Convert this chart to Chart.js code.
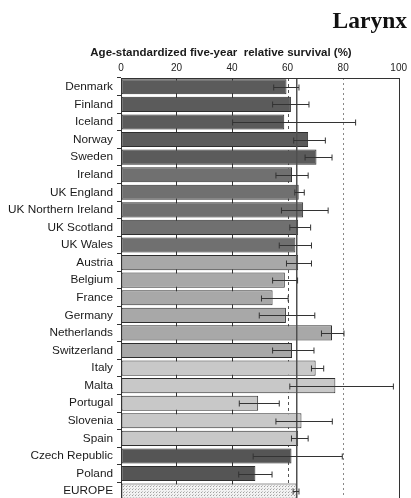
<!DOCTYPE html>
<html><head><meta charset="utf-8">
<script src="https://cdn.jsdelivr.net/npm/chart.js@4/dist/chart.umd.min.js"></script>
<style>html,body{margin:0;padding:0;background:#fff;overflow:hidden}</style>
</head><body>
<canvas id="c" width="411" height="511"></canvas>
<script>
const countries = ["Denmark","Finland","Iceland","Norway","Sweden","Ireland","UK England","UK Northern Ireland","UK Scotland","UK Wales","Austria","Belgium","France","Germany","Netherlands","Switzerland","Italy","Malta","Portugal","Slovenia","Spain","Czech Republic","Poland","EUROPE"];
const survival = [59.6,61.2,58.8,67.4,70.4,61.6,64.0,65.6,63.8,62.8,63.8,59.0,54.6,59.4,76.0,61.6,70.1,77.2,49.4,65.0,63.8,61.4,48.4,63.3];
const ciLow   = [55.0,54.6,40.2,62.2,66.3,55.8,62.6,57.8,60.8,57.0,59.6,54.6,50.6,49.8,72.2,54.6,68.6,60.8,42.6,55.8,61.4,47.6,42.4,62.0];
const ciHigh  = [64.1,67.7,84.5,73.6,76.0,67.4,66.0,74.6,68.3,68.6,68.6,63.6,60.2,69.8,80.3,69.5,73.0,98.1,57.0,76.1,67.4,79.7,54.4,64.1];
const regionGroup = [0,0,0,0,0,1,1,1,1,1,2,2,2,2,2,2,3,3,3,3,3,4,4,5];
const xTickStep = 20;
const europeMean = 63.3;
const refDashed = 60;
const refDotted = 80;
const chartTitle = "Larynx";
const axisTitle = "Age-standardized five-year  relative survival (%)";

// styles
const groupColors = ["#5b5b5b","#707070","#a8a8a8","#c8c8c8","#555555", null];
function makePattern(){
  const p = document.createElement('canvas');
  p.width = 3; p.height = 3;
  const g = p.getContext('2d');
  g.fillStyle = '#f2f2f2'; g.fillRect(0,0,3,3);
  g.fillStyle = '#a0a0a0'; g.fillRect(0,0,1,1);
  g.fillStyle = '#c8c8c8'; g.fillRect(1,2,1,1);
  return document.getElementById('c').getContext('2d').createPattern(p,'repeat');
}
const pattern = makePattern();
const barColors = regionGroup.map(g => groupColors[g] || pattern);

const overlay = {
  id: 'overlay',
  beforeDatasetsDraw(chart){
    const {ctx, chartArea:a, scales:{x}} = chart;
    ctx.save();
    ctx.strokeStyle = '#555'; ctx.lineWidth = 1;
    ctx.setLineDash([3,3]);
    let px = Math.round(x.getPixelForValue(refDashed))+0.5;
    ctx.beginPath(); ctx.moveTo(px,a.top); ctx.lineTo(px,a.bottom); ctx.stroke();
    ctx.strokeStyle = '#888';
    ctx.setLineDash([2,3]);
    px = Math.round(x.getPixelForValue(refDotted))+0.5;
    ctx.beginPath(); ctx.moveTo(px,a.top); ctx.lineTo(px,a.bottom); ctx.stroke();
    ctx.restore();
  },
  afterDatasetsDraw(chart){
    const {ctx, chartArea:a, scales:{x,y}} = chart;
    ctx.save();
    ctx.strokeStyle = '#505050'; ctx.lineWidth = 1.5;
    let px = x.getPixelForValue(europeMean);
    ctx.beginPath(); ctx.moveTo(px,a.top); ctx.lineTo(px,a.bottom); ctx.stroke();
    ctx.strokeStyle = '#333'; ctx.lineWidth = 1;
    for (let i=0;i<countries.length;i++){
      const py = Math.round(y.getPixelForValue(i))+0.5;
      const x1 = x.getPixelForValue(ciLow[i]), x2 = x.getPixelForValue(ciHigh[i]);
      ctx.beginPath();
      ctx.moveTo(x1,py); ctx.lineTo(x2,py);
      ctx.moveTo(x1,py-3); ctx.lineTo(x1,py+3);
      ctx.moveTo(x2,py-3); ctx.lineTo(x2,py+3);
      ctx.stroke();
    }
    ctx.strokeStyle = '#333'; ctx.lineWidth = 1;
    ctx.strokeRect(Math.round(a.left)+0.5, Math.round(a.top)+0.5, Math.round(a.right-a.left), Math.round(a.bottom-a.top)+5);
    ctx.restore();
  },
  afterDraw(chart){
    const {ctx} = chart;
    ctx.save();
    ctx.fillStyle = '#111';
    ctx.font = 'bold 23.5px "Liberation Serif", "DejaVu Serif", serif';
    ctx.textAlign = 'right'; ctx.textBaseline = 'alphabetic';
    ctx.fillText(chartTitle, 407, 28);
    ctx.font = 'bold 11.5px "Liberation Sans", Arial, sans-serif';
    ctx.textAlign = 'center'; ctx.textBaseline = 'middle';
    ctx.fillStyle = '#1a1a1a';
    ctx.fillText(axisTitle, 221, 53);
    ctx.restore();
  }
};

new Chart(document.getElementById('c'), {
  type: 'bar',
  data: {
    labels: countries,
    datasets: [{
      data: survival,
      backgroundColor: barColors,
      borderColor: '#2e2e2e',
      borderWidth: 1,
      borderSkipped: false,
      barPercentage: 0.86,
      categoryPercentage: 1.0
    }]
  },
  options: {
    indexAxis: 'y',
    responsive: false,
    animation: false,
    devicePixelRatio: 1,
    layout: { autoPadding: false, padding: { top: 62, right: 12, bottom: 0, left: 0 } },
    plugins: { legend: { display: false }, tooltip: { enabled: false }, title: { display: false } },
    scales: {
      x: {
        position: 'top',
        min: 0, max: 100,
        afterFit: s => { s.height = 16; },
        ticks: { stepSize: xTickStep, padding: 4, color: '#222', font: { family: '"Liberation Sans", Arial, sans-serif', size: 10 } },
        grid: {
          drawTicks: false,
          lineWidth: 1,
          color: c => (c.tick && (c.tick.value === 20 || c.tick.value === 40)) ? '#333' : 'transparent'
        },
        border: { display: true, color: '#333' }
      },
      y: {
        afterFit: s => { s.width = 121; },
        ticks: { padding: 4, color: '#1a1a1a', autoSkip: false, font: { family: '"Liberation Sans", Arial, sans-serif', size: 11.8 } },
        grid: { offset: true, drawOnChartArea: false, drawTicks: true, tickLength: 4, color: '#333' },
        border: { display: true, color: '#333' }
      }
    }
  },
  plugins: [overlay]
});
</script>
</body></html>
